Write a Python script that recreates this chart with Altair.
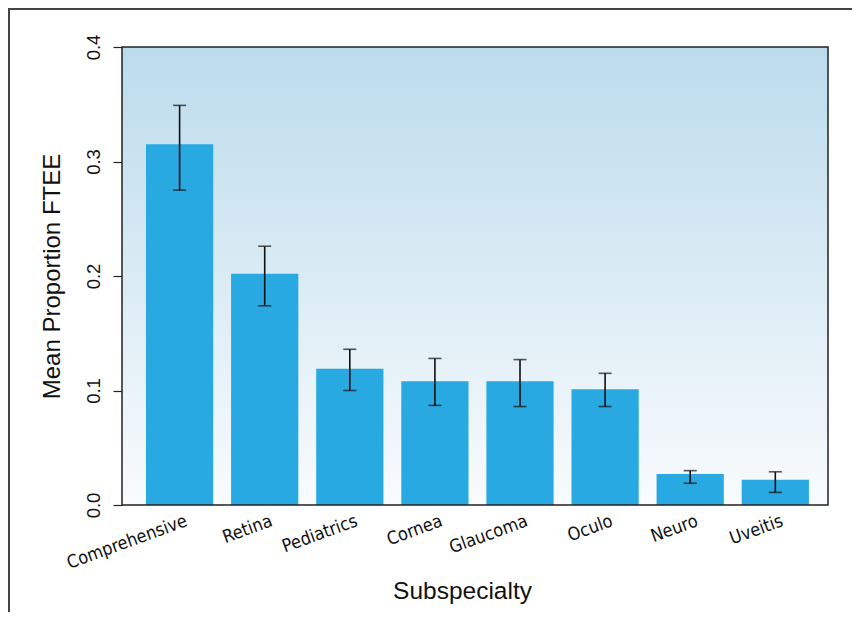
import altair as alt
import pandas as pd

categories = ["Comprehensive", "Retina", "Pediatrics", "Cornea", "Glaucoma", "Oculo", "Neuro", "Uveitis"]
means = [0.315, 0.202, 0.119, 0.108, 0.108, 0.101, 0.027, 0.022]
upper = [0.349, 0.226, 0.136, 0.128, 0.127, 0.115, 0.030, 0.029]
lower = [0.275, 0.174, 0.100, 0.087, 0.086, 0.086, 0.019, 0.011]

df = pd.DataFrame({"Subspecialty": categories, "mean": means, "hi": upper, "lo": lower})

W, H = 706, 458
PAD = {"left": 114, "top": 39, "right": 24, "bottom": 107}

xscale = alt.Scale(paddingInner=0.21, paddingOuter=0.253, align=0.557)
yscale = alt.Scale(domain=[0, 0.4], nice=False, zero=True)

x_enc = alt.X(
    "Subspecialty:N", sort=categories, scale=xscale,
    axis=alt.Axis(
        title="Subspecialty", labelAngle=340, labelAlign="right", labelBaseline="top",
        labelPadding=7, labelOffset=4, ticks=False, domain=False,
        labelFont="DejaVu Sans Condensed, Roboto, sans-serif", labelFontSize=18, labelColor="#111",
        titleFont="Liberation Sans", titleFontSize=24.5, titleFontWeight="normal", titleColor="#111",
        titleX=340, titleY=93, titleBaseline="alphabetic", titleAlign="center",
    ),
)
y_enc = alt.Y(
    "mean:Q", scale=yscale,
    axis=alt.Axis(
        title="Mean Proportion FTEE", values=[0, 0.1, 0.2, 0.3, 0.4], format=".1f",
        labelAngle=270, labelAlign="center", labelBaseline="bottom", labelPadding=10,
        tickSize=9, tickColor="#222", tickWidth=1.2, domain=False, grid=False,
        labelFont="Liberation Sans", labelFontSize=18.5, labelColor="#111",
        titleFont="Liberation Sans", titleFontSize=24, titleFontWeight="normal", titleColor="#111",
        titleAngle=270, titleX=-70, titleY=229, titleAlign="center", titleBaseline="middle",
    ),
)

gradient = alt.Chart(pd.DataFrame({"a": [0]})).mark_rect(
    color=alt.LinearGradient(
        gradient="linear", x1=0, x2=0, y1=0, y2=1,
        stops=[alt.GradientStop(color="#BBDBEC", offset=0), alt.GradientStop(color="#F9FBFD", offset=1)],
    )
).encode(x=alt.value(0), x2=alt.value(W), y=alt.value(0), y2=alt.value(H))

bars = alt.Chart(df).mark_bar(color="#29A9E1").encode(x=x_enc, y=y_enc)

err = alt.Chart(df).mark_rule(color="#111", strokeWidth=1.6).encode(
    x=alt.X("Subspecialty:N", sort=categories, scale=xscale),
    y=alt.Y("lo:Q", scale=yscale), y2="hi:Q")
cap_hi = alt.Chart(df).mark_tick(color="#111", thickness=1.6, size=13).encode(
    x=alt.X("Subspecialty:N", sort=categories, scale=xscale), y=alt.Y("hi:Q", scale=yscale))
cap_lo = alt.Chart(df).mark_tick(color="#111", thickness=1.6, size=13).encode(
    x=alt.X("Subspecialty:N", sort=categories, scale=xscale), y=alt.Y("lo:Q", scale=yscale))

frame = alt.Chart(pd.DataFrame({"a": [0]})).mark_rect(
    fillOpacity=0, stroke="#222", strokeWidth=1.5
).encode(x=alt.value(0), x2=alt.value(W), y=alt.value(0), y2=alt.value(H))

outer_left = alt.Chart(pd.DataFrame({"a": [0]})).mark_rule(color="#444", strokeWidth=2).encode(
    x=alt.value(-113), y=alt.value(-38), y2=alt.value(H + 110))
outer_top = alt.Chart(pd.DataFrame({"a": [0]})).mark_rule(color="#444", strokeWidth=2).encode(
    x=alt.value(-114), x2=alt.value(W + 30), y=alt.value(-38))

chart = alt.layer(gradient, bars, err, cap_hi, cap_lo, frame, outer_left, outer_top).properties(
    width=W, height=H, padding=PAD,
    autosize=alt.AutoSizeParams(type="none"),
    background="white",
).configure_view(stroke=None)

chart.save("out.html", embed_options={"renderer": "svg", "actions": False})
